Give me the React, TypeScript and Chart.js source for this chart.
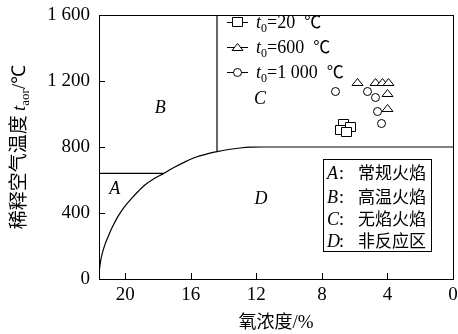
import { useEffect, useRef } from "react";
import { Chart, registerables } from "chart.js";

Chart.register(...registerables);

// axis ranges (oxygen concentration axis runs from air at the left down to 0 %)
const xMin = 0;
const xMax = 21.6;
const xStep = 4;
const yMin = 0;
const yMax = 1600;
const yStep = 400;

// measured points: oxygen concentration (%) and dilution air temperature (℃)
const o2T20 = [6.74, 6.31, 6.92, 6.55];
const tempT20 = [942, 920, 905, 888];
const o2T600 = [5.88, 4.76, 4.36, 3.95, 4.03, 4.05];
const tempT600 = [1195, 1195, 1195, 1195, 1125, 1034];
const o2T1000 = [7.22, 5.23, 4.78, 4.62, 4.38];
const tempT1000 = [1141, 1141, 1101, 1019, 943];

// self-ignition limit curve, continuing as the 800 ℃ line to 0 %
const limitO2 = [21.6, 21.58, 21.55, 21.5, 21.4, 21.25, 21.05, 20.8, 20.45, 20.05, 19.6, 19.2, 18.8, 18.25, 17.65, 17.0, 16.35, 15.7, 15.0, 14.4, 13.7, 13.0, 12.3, 11.6, 0];
const limitTemp = [0, 45, 75, 110, 155, 205, 255, 312, 378, 437, 490, 532, 570, 608, 640, 677, 710, 738, 758, 772, 785, 794, 799, 800, 800];

// A / B border (640 ℃) and B / C border (14.4 %)
const borderAO2 = [21.6, 17.65];
const borderATemp = [640, 640];
const borderBO2 = [14.4, 14.4];
const borderBTemp = [772, 1600];

const legendLabels = ["20", "600", "1 000"];
const regimeLetters = ["A", "B", "C", "D"];
const regimeNames = ["常规火焰", "高温火焰", "无焰火焰", "非反应区"];

const SERIF = "'Liberation Serif', 'Times New Roman', serif";
const SERIF_CJK = "'Liberation Serif', 'Noto Sans CJK SC', serif";
const CJK = "'Noto Sans CJK SC', sans-serif";
const INK = "#000";

type Kind = "square" | "triangle" | "circle";
const markerKinds: Kind[] = ["square", "triangle", "circle"];

type Piece = { t: string; font: string; dy?: number };

function drawPieces(ctx: CanvasRenderingContext2D, pieces: Piece[], x: number, y: number, align: "left" | "center") {
  let total = 0;
  const widths = pieces.map((p) => {
    ctx.font = p.font;
    const w = ctx.measureText(p.t).width;
    total += w;
    return w;
  });
  let cx = align === "center" ? x - total / 2 : x;
  pieces.forEach((p, i) => {
    ctx.font = p.font;
    ctx.fillText(p.t, cx, y + (p.dy || 0));
    cx += widths[i];
  });
}

// open black-outlined marker centred on a whole pixel
function drawMarker(ctx: CanvasRenderingContext2D, kind: Kind, cx: number, cy: number) {
  ctx.save();
  ctx.fillStyle = "#fff";
  ctx.strokeStyle = INK;
  ctx.lineWidth = 1;
  ctx.beginPath();
  if (kind === "square") {
    ctx.rect(cx - 4.5, cy - 4.5, 10, 9);
  } else if (kind === "triangle") {
    ctx.moveTo(cx + 0.5, cy - 3.5);
    ctx.lineTo(cx + 6, cy + 3.5);
    ctx.lineTo(cx - 5, cy + 3.5);
    ctx.closePath();
  } else {
    ctx.arc(cx + 0.5, cy + 0.5, 4, 0, Math.PI * 2);
  }
  ctx.fill();
  ctx.stroke();
  ctx.restore();
}

const toPoints = (xs: number[], ys: number[]) => xs.map((x, i) => ({ x, y: ys[i] }));

export default function App() {
  const canvasRef = useRef<HTMLCanvasElement | null>(null);

  useEffect(() => {
    const canvas = canvasRef.current;
    if (!canvas) return;

    const decorations = {
      id: "decorations",
      afterDatasetsDraw(chart: Chart) {
        const { ctx } = chart;
        markerKinds.forEach((kind, i) => {
          chart.getDatasetMeta(i).data.forEach((el: any) => {
            drawMarker(ctx, kind, Math.round(el.x), Math.round(el.y));
          });
        });
      },
      afterDraw(chart: Chart) {
        const { ctx, chartArea } = chart;
        const { left, right, top, bottom } = chartArea;
        const xs = chart.scales.x;
        const ys = chart.scales.y;
        ctx.save();
        ctx.strokeStyle = INK;
        ctx.fillStyle = INK;
        ctx.lineWidth = 1;

        // frame
        ctx.strokeRect(Math.round(left) + 0.5, Math.round(top) + 0.5, Math.round(right - left), Math.round(bottom - top));

        // inward tick marks
        ctx.beginPath();
        ys.ticks.forEach((t) => {
          const py = Math.round(ys.getPixelForValue(t.value)) + 0.5;
          ctx.moveTo(left, py);
          ctx.lineTo(left + 6, py);
        });
        xs.ticks.forEach((t) => {
          const px = Math.round(xs.getPixelForValue(t.value)) + 0.5;
          ctx.moveTo(px, bottom);
          ctx.lineTo(px, bottom - 6);
        });
        ctx.stroke();

        ctx.textBaseline = "alphabetic";

        // regime letters
        const letterAt: [string, number, number][] = [
          ["A", 20.64, 550],
          ["B", 17.87, 1042],
          ["C", 11.77, 1096],
          ["D", 11.71, 490],
        ];
        ctx.font = `italic 18px ${SERIF}`;
        ctx.textAlign = "center";
        letterAt.forEach(([s, vx, vy]) => {
          ctx.fillText(s, xs.getPixelForValue(vx), ys.getPixelForValue(vy) + 6);
        });
        ctx.textAlign = "left";

        // series key
        const rowY = [22, 47, 72];
        legendLabels.forEach((lab, i) => {
          const cy = rowY[i];
          ctx.beginPath();
          ctx.moveTo(227, cy + 0.5);
          ctx.lineTo(248, cy + 0.5);
          ctx.stroke();
          drawMarker(ctx, markerKinds[i], 237, cy);
          drawPieces(
            ctx,
            [
              { t: "t", font: `italic 18px ${SERIF}` },
              { t: "0", font: `12px ${SERIF}`, dy: 4 },
              { t: "=" + lab + "  ", font: `18px ${SERIF}` },
              { t: "℃", font: `17px ${SERIF_CJK}` },
            ],
            256,
            cy + 6,
            "left"
          );
        });

        // regime key box
        ctx.strokeRect(323.5, 159.5, 108, 92);
        const keyY = [173, 196.5, 219, 240.5];
        regimeLetters.forEach((s, i) => {
          const base = keyY[i] + 6;
          ctx.font = `italic 18px ${SERIF}`;
          ctx.fillText(s, 327, base);
          ctx.font = `18px ${SERIF}`;
          ctx.fillText(":", 339, base);
          ctx.font = `17px ${CJK}`;
          ctx.fillText(regimeNames[i], 358, base);
        });

        // x axis title
        drawPieces(
          ctx,
          [
            { t: "氧浓度", font: `18px ${CJK}` },
            { t: "/%", font: `19px ${SERIF}` },
          ],
          (left + right) / 2,
          328,
          "center"
        );

        // y axis title
        ctx.save();
        ctx.translate(17.5, (top + bottom) / 2);
        ctx.rotate(-Math.PI / 2);
        drawPieces(
          ctx,
          [
            { t: "稀释空气温度 ", font: `19px ${CJK}` },
            { t: "t", font: `italic 19px ${SERIF}` },
            { t: "aor", font: `13px ${SERIF}`, dy: 4 },
            { t: "/℃", font: `19px ${SERIF}` },
          ],
          0,
          7,
          "center"
        );
        ctx.restore();

        ctx.restore();
      },
    };

    const lineStyle = {
      showLine: true,
      borderColor: INK,
      borderWidth: 1.2,
      pointRadius: 0,
      pointHoverRadius: 0,
      fill: false,
    };
    const hiddenPoints = { pointRadius: 0, pointHoverRadius: 0 };

    const chart = new Chart(canvas, {
      type: "scatter",
      data: {
        datasets: [
          { label: "t0=20", data: toPoints(o2T20, tempT20), ...hiddenPoints },
          { label: "t0=600", data: toPoints(o2T600, tempT600), ...hiddenPoints },
          { label: "t0=1000", data: toPoints(o2T1000, tempT1000), ...hiddenPoints },
          { label: "limit", data: toPoints(limitO2, limitTemp), ...lineStyle, cubicInterpolationMode: "monotone" },
          { label: "A|B", data: toPoints(borderAO2, borderATemp), ...lineStyle },
          { label: "B|C", data: toPoints(borderBO2, borderBTemp), ...lineStyle },
        ] as any,
      },
      options: {
        animation: false,
        responsive: false,
        events: [],
        layout: { autoPadding: false, padding: { top: 15, right: 5, left: 0, bottom: 0 } },
        plugins: { legend: { display: false }, tooltip: { enabled: false } },
        scales: {
          x: {
            type: "linear",
            min: xMin,
            max: xMax,
            reverse: true,
            grid: { display: false, drawTicks: false },
            border: { display: false },
            ticks: {
              stepSize: xStep,
              includeBounds: false,
              padding: 5,
              color: INK,
              font: { family: SERIF, size: 19 },
              maxRotation: 0,
            },
            afterFit(scale: any) {
              scale.height = 55;
              scale.paddingLeft = 0;
              scale.paddingRight = 0;
            },
          },
          y: {
            type: "linear",
            min: yMin,
            max: yMax,
            grid: { display: false, drawTicks: false },
            border: { display: false },
            ticks: {
              stepSize: yStep,
              padding: 9,
              color: INK,
              font: { family: SERIF, size: 19 },
              callback: (v: any) => {
                const n = Number(v);
                return n >= 1000 ? `${Math.floor(n / 1000)} ${String(n % 1000).padStart(3, "0")}` : String(n);
              },
            },
            afterFit(scale: any) {
              scale.width = 99;
              scale.paddingTop = 0;
              scale.paddingBottom = 0;
            },
          },
        },
      },
      plugins: [decorations],
    });

    return () => chart.destroy();
  }, []);

  return (
    <div style={{ position: "fixed", left: 0, top: 0, width: 458, height: 334, background: "#fff" }}>
      <canvas ref={canvasRef} width={458} height={334} />
    </div>
  );
}
